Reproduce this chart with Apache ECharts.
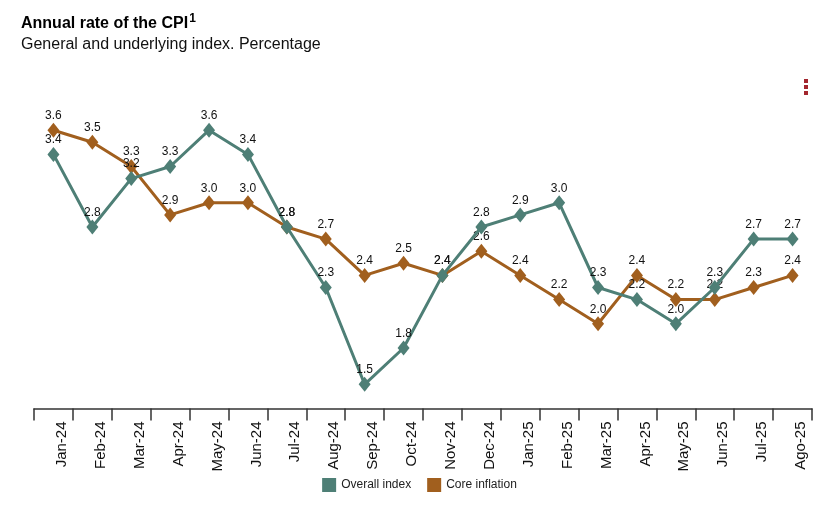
<!DOCTYPE html>
<html>
<head>
<meta charset="utf-8">
<script src="https://cdn.jsdelivr.net/npm/echarts@6/dist/echarts.min.js"></script>
<style>html,body{margin:0;padding:0;background:#fff}#c{width:839px;height:511px}</style>
</head>
<body>
<div id="c"></div>
<script>
const categories = ['Jan-24','Feb-24','Mar-24','Apr-24','May-24','Jun-24','Jul-24','Aug-24','Sep-24','Oct-24','Nov-24','Dec-24','Jan-25','Feb-25','Mar-25','Apr-25','May-25','Jun-25','Jul-25','Ago-25'];
const overallIndex = [3.4,2.8,3.2,3.3,3.6,3.4,2.8,2.3,1.5,1.8,2.4,2.8,2.9,3.0,2.3,2.2,2.0,2.3,2.7,2.7];
const coreInflation = [3.6,3.5,3.3,2.9,3.0,3.0,2.8,2.7,2.4,2.5,2.4,2.6,2.4,2.2,2.0,2.4,2.2,2.2,2.3,2.4];
const seriesNames = ['Overall index','Core inflation'];
const colors = ['#4E7F76','#A15F1E'];
const FONT = '"Liberation Sans", Arial, sans-serif';

const chart = echarts.init(document.getElementById('c'));
function mk(name, data, color, z) {
  return {
    name, type: 'line', data, z,
    symbol: 'diamond', symbolSize: [12, 15],
    itemStyle: { color },
    lineStyle: { color, width: 3 },
    label: {
      show: true, position: 'top', distance: 1,
      color: '#111', fontSize: 12, fontFamily: FONT,
      formatter: p => p.value.toFixed(1)
    },
    emphasis: { disabled: true },
    animation: false
  };
}
chart.setOption({
  backgroundColor: '#fff',
  textStyle: { fontFamily: FONT },
  title: {
    left: 16, top: 8,
    text: '{t|Annual rate of the CPI}{s|1}',
    subtext: 'General and underlying index. Percentage',
    itemGap: 5,
    textStyle: {
      rich: {
        t: { fontSize: 16, fontWeight: 'bold', color: '#000', fontFamily: FONT },
        s: { fontSize: 12, fontWeight: 'bold', color: '#000', fontFamily: FONT, verticalAlign: 'top', padding: [0,0,9,1] }
      }
    },
    subtextStyle: { fontSize: 16, color: '#111', fontFamily: FONT }
  },
  legend: {
    bottom: 14, left: 'center',
    itemWidth: 14, itemHeight: 14, itemGap: 16,
    icon: 'rect',
    textStyle: { fontSize: 12, color: '#222', fontFamily: FONT },
    data: seriesNames
  },
  grid: { left: 34, right: 27, top: 106, bottom: 102.5 },
  xAxis: {
    type: 'category', data: categories, boundaryGap: true,
    axisLine: { lineStyle: { color: '#333', width: 1.5 } },
    axisTick: { show: true, inside: false, length: 12, lineStyle: { color: '#333', width: 1.5 }, alignWithLabel: false },
    axisLabel: {
      rotate: 90, interval: 0, fontSize: 15, color: '#111', fontFamily: FONT,
      margin: 13, verticalAlign: 'top', padding: [1, 0, 0, 0]
    }
  },
  yAxis: {
    type: 'value', min: 1.3, max: 3.8,
    show: false, splitLine: { show: false }
  },
  graphic: [
    { type: 'rect', left: 804, top: 79, shape: { width: 4, height: 4 }, style: { fill: '#A3262E' } },
    { type: 'rect', left: 804, top: 85, shape: { width: 4, height: 4 }, style: { fill: '#A3262E' } },
    { type: 'rect', left: 804, top: 91, shape: { width: 4, height: 4 }, style: { fill: '#A3262E' } }
  ],
  series: [
    mk(seriesNames[0], overallIndex, colors[0], 3),
    mk(seriesNames[1], coreInflation, colors[1], 2)
  ]
});
</script>
</body>
</html>
